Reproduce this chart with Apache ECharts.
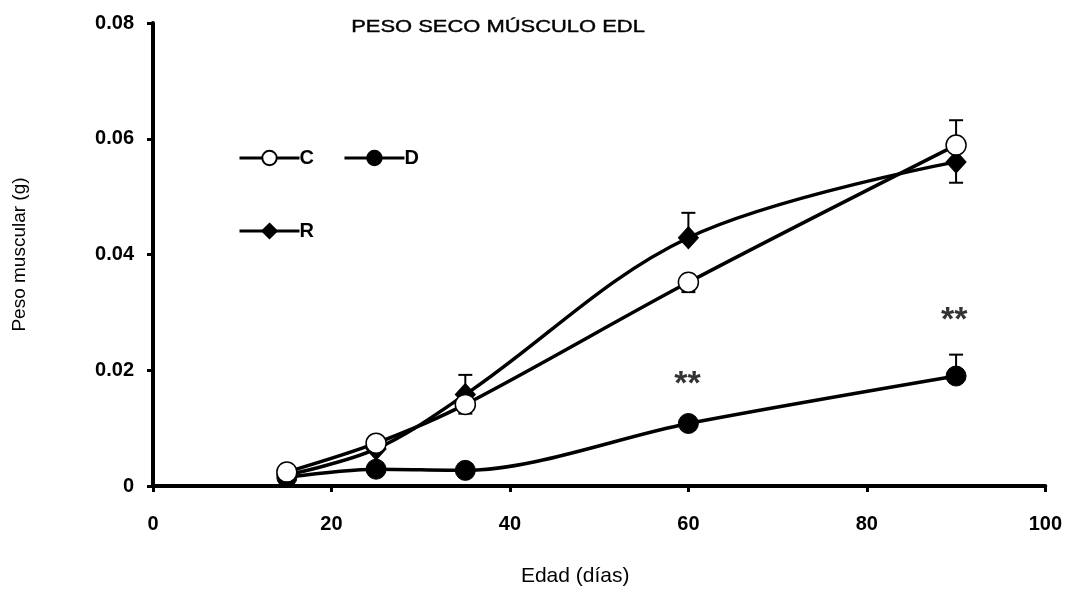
<!DOCTYPE html>
<html>
<head>
<meta charset="utf-8">
<script src="https://cdn.jsdelivr.net/npm/echarts@6/dist/echarts.min.js"></script>
<style>html,body{margin:0;padding:0;background:#fff}#c{width:1065px;height:592px}</style>
</head>
<body>
<div id="c"></div>
<script>
const ages = [15, 25, 35, 60, 90];
const seriesC = [0.0024, 0.0074, 0.0141, 0.0352, 0.0589];
const seriesD = [0.0015, 0.0029, 0.0027, 0.0108, 0.0190];
const seriesR = [0.0019, 0.0064, 0.0158, 0.0429, 0.0560];
// error bars: [age, value, end of whisker]
const errC = [[35, 0.0141, 0.0125], [60, 0.0352, 0.0335], [90, 0.0589, 0.0632]];
const errD = [[90, 0.0190, 0.0227]];
const errR = [[35, 0.0158, 0.0192], [60, 0.0429, 0.0472], [90, 0.0560, 0.0524]];
const stars = [[59.9, 0.0189], [89.8, 0.0300]];
const xTicks = [0, 20, 40, 60, 80, 100];
const yTicks = [0, 0.02, 0.04, 0.06, 0.08];
const titleText = 'PESO SECO MÚSCULO EDL';

const font = '"Liberation Sans", Arial, sans-serif';
const pair = (xs, ys) => xs.map((x, i) => [x, ys[i]]);

function errSeries(data) {
  return {
    type: 'custom', z: 1, silent: true,
    data: data,
    renderItem: function (params, api) {
      const p0 = api.coord([api.value(0), api.value(1)]);
      const p1 = api.coord([api.value(0), api.value(2)]);
      const w = 7;
      return {
        type: 'group',
        children: [
          { type: 'line', shape: { x1: p0[0], y1: p0[1], x2: p1[0], y2: p1[1] }, style: { stroke: '#000', lineWidth: 2 } },
          { type: 'line', shape: { x1: p1[0] - w, y1: p1[1], x2: p1[0] + w, y2: p1[1] }, style: { stroke: '#000', lineWidth: 2 } }
        ]
      };
    }
  };
}

const legendText = { fontFamily: font, fontSize: 20, fontWeight: 'bold', color: '#000', padding: [0, 0, 0, -5] };

const chart = echarts.init(document.getElementById('c'));
chart.setOption({
  animation: false,
  graphic: [{
    type: 'text', x: 498, y: 27, scaleX: 1.29, silent: true,
    style: { text: titleText, font: '17px "Liberation Sans", Arial, sans-serif', fill: '#000', stroke: '#000', lineWidth: 0.4, textAlign: 'center', textVerticalAlign: 'middle' }
  }],
  legend: [
    {
      data: ['C', 'D'], left: 238, top: 148, padding: 0, itemWidth: 60, itemHeight: 18, itemGap: 29,
      lineStyle: { width: 3 },
      textStyle: legendText
    },
    {
      data: ['R'], left: 238, top: 221, padding: 0, itemWidth: 60, itemHeight: 18,
      lineStyle: { width: 3 },
      textStyle: legendText
    }
  ],
  grid: { left: 153, right: 19, top: 23, bottom: 103 },
  xAxis: {
    type: 'value', min: 0, max: 100, interval: 20,
    name: 'Edad (días)', nameLocation: 'middle', nameGap: 80,
    nameTextStyle: { fontFamily: font, fontSize: 21, color: '#000', padding: [0, 48, 0, 0] },
    axisLine: { lineStyle: { color: '#000', width: 4 } },
    axisTick: { show: true, length: 6, lineStyle: { color: '#000', width: 3 } },
    axisLabel: {
      margin: 28, color: '#000', fontFamily: font, fontWeight: 'bold', fontSize: 20,
      formatter: v => xTicks.includes(v) ? String(v) : ''
    },
    splitLine: { show: false }
  },
  yAxis: {
    type: 'value', min: 0, max: 0.08, interval: 0.02,
    name: 'Peso muscular (g)', nameLocation: 'middle', nameGap: 124, nameRotate: 90,
    nameTextStyle: { fontFamily: font, fontSize: 19, color: '#000' },
    axisLine: { show: true, lineStyle: { color: '#000', width: 4 } },
    axisTick: { show: true, length: 6, lineStyle: { color: '#000', width: 3 } },
    axisLabel: {
      margin: 19, color: '#000', fontFamily: font, fontWeight: 'bold', fontSize: 20,
      formatter: v => { const t = yTicks.find(y => Math.abs(y - v) < 1e-9); return t === undefined ? '' : (t === 0 ? '0' : t.toFixed(2)); }
    },
    splitLine: { show: false }
  },
  series: [
    errSeries(errC), errSeries(errD), errSeries(errR),
    {
      name: 'D', type: 'line', z: 3, data: pair(ages, seriesD), smooth: 0.3,
      symbol: 'circle', symbolSize: 20,
      lineStyle: { color: '#000', width: 3.5 },
      itemStyle: { color: '#000', borderColor: '#000', borderWidth: 1 }
    },
    {
      name: 'R', type: 'line', z: 4, data: pair(ages, seriesR), smooth: 0.35,
      symbol: 'diamond', symbolSize: [20, 22],
      lineStyle: { color: '#000', width: 3.5 },
      itemStyle: { color: '#000', borderColor: '#000', borderWidth: 1 }
    },
    {
      name: 'C', type: 'line', z: 5, data: pair(ages, seriesC), smooth: 0.3,
      symbol: 'circle', symbolSize: 20,
      lineStyle: { color: '#000', width: 3.5 },
      itemStyle: { color: '#fff', borderColor: '#000', borderWidth: 1.5 }
    },
    {
      type: 'scatter', z: 6, silent: true, symbolSize: 0, data: stars,
      label: { show: true, position: 'inside', offset: [0, 8], formatter: '**', fontFamily: font, fontWeight: 'bold', fontSize: 34, color: '#000' }
    }
  ]
});
</script>
</body>
</html>
